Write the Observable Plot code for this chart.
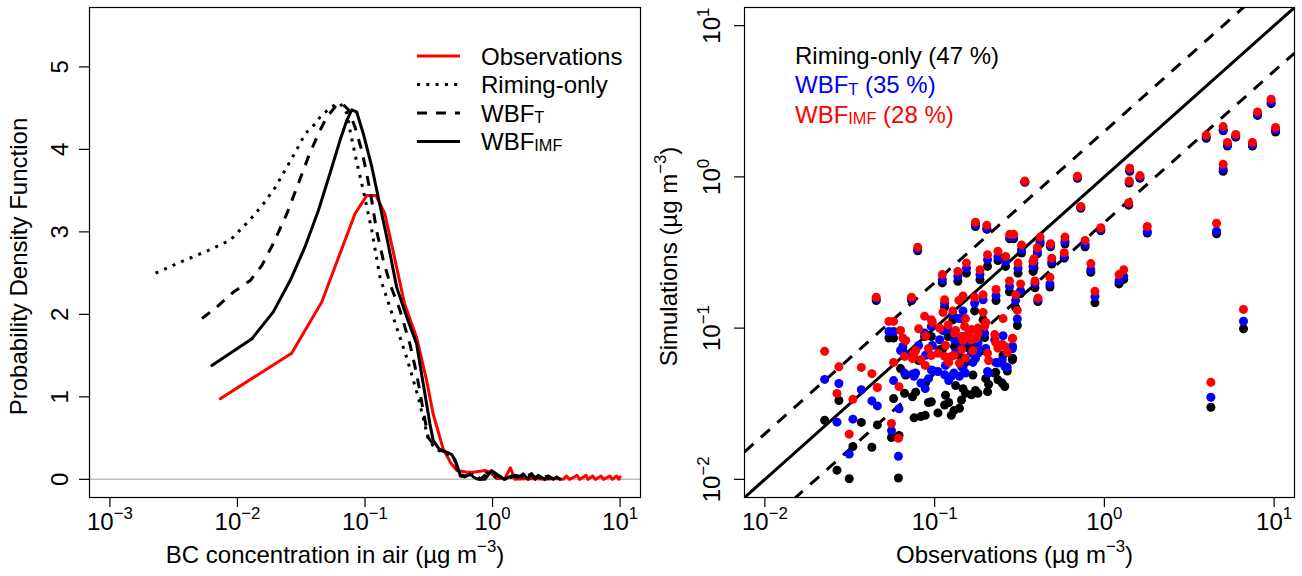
<!DOCTYPE html>
<html><head><meta charset="utf-8">
<script src="https://cdn.jsdelivr.net/npm/d3@7"></script>
<script src="https://cdn.jsdelivr.net/npm/@observablehq/plot@0.6"></script>
<style>
html,body{margin:0;padding:0;background:#fff;}
#wrap{position:relative;width:1302px;height:576px;overflow:hidden;background:#fff;}
#wrap svg{position:absolute;top:0;}
</style></head><body><div id="wrap"></div>
<script>
// ---------- Left panel: PDF curves ----------
const obsX = [0.00734,0.0266,0.0458,0.0835,0.103,0.122,0.143,0.157,0.177,0.204,0.254,0.304,0.342,0.41,0.47,0.525,0.62,0.706,0.87,0.955,1.077,1.25,1.38,1.5,2.0,2.6,3.1,3.6,3.8,4.0,4.4,4.6,4.8,5.2,5.4,5.6,6.1,6.4,7.1,7.4,8.3,8.7,9.4,9.8,10.0];
const obsY = [0.978,1.53,2.15,3.22,3.44,3.44,3.22,2.94,2.57,2.13,1.72,1.2,0.795,0.37,0.2,0.107,0.09,0.086,0.107,0.086,0.01,0.01,0.14,0.0,0.01,0.0,0.01,0.0,0.04,0.0,0.03,0.05,0.0,0.03,0.05,0.0,0.04,0.0,0.04,0.0,0.04,0.0,0.04,0.0,0.03];

const rimX = [0.00228,0.00379,0.00612,0.00879,0.0126,0.016,0.0198,0.0237,0.0283,0.034,0.0406,0.0458,0.0516,0.0582,0.0637,0.072,0.0763,0.086,0.097,0.113,0.131,0.166,0.212,0.261,0.313,0.36,0.43,0.5,0.55,0.62,0.7,0.8,0.9,1.05,1.25,1.5,1.8,2.1,2.5,3.0];
const rimY = [2.5,2.65,2.785,2.9,3.15,3.34,3.54,3.75,3.96,4.19,4.31,4.42,4.48,4.54,4.56,4.44,4.23,3.85,3.5,3.02,2.45,1.97,1.48,1.0,0.49,0.36,0.32,0.25,0.05,0.05,0.06,0.01,0.08,0.03,0.0,0.04,0.02,0.05,0.0,0.03];

const wbftX = [0.00527,0.0069,0.0093,0.0126,0.0155,0.0191,0.0244,0.0301,0.036,0.0431,0.0501,0.0601,0.0658,0.0741,0.0835,0.0942,0.103,0.113,0.123,0.139,0.157,0.188,0.225,0.254,0.286,0.313,0.364,0.43,0.5,0.55,0.62,0.7,0.8,0.95,1.1,1.3,1.5,1.7,2.0,2.3,2.7,3.1];
const wbftY = [1.95,2.09,2.27,2.41,2.59,2.86,3.22,3.59,3.91,4.19,4.39,4.54,4.56,4.48,4.27,3.99,3.71,3.38,3.02,2.66,2.37,2.05,1.64,1.28,0.835,0.51,0.37,0.33,0.27,0.05,0.04,0.07,0.0,0.1,0.04,0.0,0.05,0.03,0.06,0.0,0.04,0.0];

const wbfimfX = [0.0063,0.013,0.0191,0.0259,0.0339,0.0431,0.0532,0.0637,0.0719,0.0787,0.086,0.097,0.113,0.127,0.148,0.177,0.212,0.254,0.286,0.323,0.343,0.38,0.436,0.48,0.52,0.56,0.6,0.665,0.72,0.773,0.87,0.98,1.11,1.24,1.4,1.59,1.74,1.9,2.02,2.15,2.28,2.57,2.73,2.99,3.18,3.38];
const wbfimfY = [1.38,1.705,2.03,2.41,2.82,3.26,3.71,4.11,4.35,4.48,4.455,4.19,3.79,3.42,2.94,2.33,1.97,1.64,1.16,0.67,0.47,0.37,0.33,0.3,0.2,0.04,0.03,0.066,0.02,0.0,0.0,0.107,0.05,0.0,0.04,0.026,0.066,0.0,0.07,0.0,0.05,0.0,0.04,0.0,0.03,0.0];

const leftXTicks = [0.001, 0.01, 0.1, 1, 10];
const leftYTicks = [0, 1, 2, 3, 4, 5];
const legendLabels = ["Observations", "Riming-only", "WBF_{T}", "WBF_{IMF}"];

// ---------- Right panel: scatter ----------
const siteObs = [9.6,10.2,7.98,7.45,5.94,5.01,5.31,3.98,5.01,4.58,6.6,4.24,1.41,1.40,1.62,1.39,1.79,1.22,1.30,0.88,0.953,0.832,0.726,0.694,0.77,0.586,0.58,0.482,0.49,0.478,0.406,0.34,0.174,0.203,0.0795,0.403,
 0.111,0.154,0.137,0.185,0.205,0.236,0.262,0.277,0.292,0.325,0.31,0.38,0.418,0.39,0.276,0.30,0.23,0.193,0.172,0.147,0.128,0.1145,0.0873,0.0956,0.107,0.12,0.15,0.1645,0.18,0.197,0.159,0.144,0.131,0.0665,0.0757,0.083,0.0956,0.1046,0.1145,0.1254,0.14,0.152,0.144,0.205,0.236,0.259,0.288,0.226,0.1645,0.18,
 0.0225,0.0273,0.0266,0.0314,0.033,0.037,0.0427,0.046,0.0453,0.0731,0.0538,0.0573,0.0557,0.0612,0.0617,0.065,
 0.321,0.307,0.287,0.268,0.25,0.385,
 0.0675,0.0773,0.0885,0.097,0.116,0.133,0.152,0.174,0.2,0.229,0.0573,0.074,0.092,0.13,0.147,0.168,0.193,0.253,0.0805,0.112,0.139,0.063,0.121,0.208,0.088];
const simRiming = [3.05,1.98,2.55,1.60,1.83,2.02,1.60,1.80,1.09,0.42,0.099,0.030,1.09,0.91,0.98,0.65,0.425,0.196,0.21,0.147,0.44,0.234,0.62,0.98,0.345,0.36,0.29,0.345,0.265,0.187,0.15,0.92,0.47,0.45,0.325,0.31,
 0.199,0.231,0.204,0.209,0.256,0.28,0.256,0.39,0.39,0.314,0.231,0.237,0.361,0.185,0.174,0.137,0.152,0.1135,0.13,0.115,0.1135,0.138,0.088,0.088,0.0719,0.088,0.079,0.0756,0.0683,0.0865,0.0737,0.0633,0.0756,0.0371,0.0255,0.026,0.0326,0.0275,0.031,0.0265,0.0295,0.0371,0.0335,0.038,0.0455,0.0411,0.0633,0.0504,0.0362,0.0371,
 0.0246,0.0332,0.0115,0.0101,0.0165,0.0238,0.0163,0.0229,0.152,0.152,0.086,0.086,0.0189,0.0102,0.0195,0.070,
 0.169,0.104,0.0616,0.052,0.0433,0.25,
 0.049,0.0377,0.0437,0.0525,0.036,0.0417,0.0593,0.0387,0.0463,0.051,0.0342,0.0352,0.0322,0.0285,0.0398,0.049,0.0711,0.0662,0.0611,0.0733,0.0828,0.054,0.0322,0.0425,0.0265];
const simWBFT = [3.13,2.05,2.60,1.64,1.87,2.06,1.63,1.84,1.13,0.437,0.111,0.0349,1.11,0.93,1.0,0.665,0.435,0.206,0.22,0.162,0.45,0.243,0.63,0.995,0.357,0.375,0.298,0.352,0.275,0.196,0.154,0.93,0.484,0.458,0.333,0.32,
 0.209,0.249,0.22,0.226,0.283,0.296,0.277,0.40,0.40,0.33,0.249,0.256,0.376,0.197,0.189,0.152,0.164,0.154,0.146,0.13,0.123,0.146,0.093,0.1026,0.0837,0.098,0.088,0.0837,0.0796,0.0927,0.0817,0.0756,0.0837,0.0504,0.048,0.0433,0.0529,0.0517,0.0492,0.048,0.048,0.0504,0.0557,0.0517,0.0587,0.0557,0.0756,0.0837,0.0683,0.07,
 0.0458,0.043,0.0239,0.0147,0.025,0.0391,0.033,0.0306,0.156,0.156,0.095,0.095,0.021,0.0142,0.0293,0.0757,
 0.177,0.115,0.073,0.055,0.0617,0.267,
 0.0662,0.0505,0.0662,0.0767,0.0567,0.069,0.0828,0.063,0.0733,0.0593,0.045,0.0496,0.0463,0.0505,0.0545,0.0593,0.0964,0.089,0.0767,0.0964,0.1156,0.0711,0.045,0.0505,0.0398];
const simWBFIMF = [3.26,2.12,2.69,1.69,1.91,2.15,1.69,1.89,1.21,0.494,0.133,0.0438,1.14,0.94,1.02,0.675,0.47,0.226,0.243,0.175,0.461,0.267,0.638,1.01,0.38,0.40,0.315,0.361,0.29,0.217,0.158,0.938,0.502,0.478,0.343,0.34,
 0.226,0.269,0.237,0.243,0.306,0.322,0.298,0.417,0.417,0.355,0.269,0.277,0.40,0.205,0.205,0.166,0.18,0.166,0.16,0.163,0.13,0.154,0.12,0.1135,0.10,0.105,0.1026,0.098,0.10,0.1026,0.0927,0.088,0.0927,0.065,0.0683,0.0617,0.0658,0.0683,0.065,0.065,0.0587,0.0633,0.0719,0.0683,0.0737,0.0756,0.0856,0.0906,0.0837,0.0927,
 0.0702,0.0555,0.037,0.0199,0.0338,0.055,0.05,0.0405,0.16,0.16,0.1107,0.1107,0.0234,0.0187,0.041,0.086,
 0.196,0.131,0.085,0.0693,0.078,0.288,
 0.0828,0.0711,0.089,0.109,0.0767,0.0964,0.1156,0.0853,0.109,0.0803,0.0593,0.063,0.0733,0.066,0.0828,0.0711,0.127,0.1156,0.099,0.127,0.1525,0.0964,0.0593,0.0611,0.0567];
const rightTicks = [0.01, 0.1, 1, 10];
const ratioLines = [0.5, 1, 2];
const scatterLabels = ["Riming-only (47 %)", "WBF_{T} (35 %)", "WBF_{IMF} (28 %)"];

// ---------- build ----------
const FONT = '"Liberation Sans", Arial, Helvetica, sans-serif';
const FS = 24;
const wrap = document.getElementById("wrap");

function fmtExp(d) {
  const e = Math.round(Math.log10(d));
  return "10^{" + (e < 0 ? "\u2212" + (-e) : String(e)) + "}";
}
const toRows = (xs, ys) => xs.map((x, i) => ({x, y: ys[i]}));
const xTitle = "BC concentration in air (\u00b5g m^{\u22123})";

const left = Plot.plot({
  width: 650, height: 576,
  marginLeft: 89, marginRight: 10, marginTop: 7, marginBottom: 79,
  style: {fontFamily: FONT, fontSize: FS + "px", background: "transparent"},
  x: {type: "log", domain: [Math.pow(10, -3.16), Math.pow(10, 1.16)]},
  y: {domain: [-0.22, 5.72]},
  marks: [
    Plot.ruleY([0], {stroke: "#bebebe", strokeWidth: 1.5}),
    Plot.line(toRows(obsX, obsY), {x: "x", y: "y", stroke: "red", strokeWidth: 3}),
    Plot.line(toRows(rimX, rimY), {x: "x", y: "y", stroke: "black", strokeWidth: 3, strokeDasharray: "3,6.3", strokeLinecap: "butt"}),
    Plot.line(toRows(wbftX, wbftY), {x: "x", y: "y", stroke: "black", strokeWidth: 3, strokeDasharray: "10,9", strokeLinecap: "butt"}),
    Plot.line(toRows(wbfimfX, wbfimfY), {x: "x", y: "y", stroke: "black", strokeWidth: 3}),
    Plot.axisX({ticks: leftXTicks, tickSize: 10, tickFormat: () => "", label: null, strokeWidth: 1.2}),
    Plot.axisY({ticks: leftYTicks, tickSize: 10, tickFormat: () => "", label: null, strokeWidth: 1.2}),
    Plot.text(leftXTicks, {x: d => d, text: fmtExp, frameAnchor: "bottom", dy: 32, lineAnchor: "bottom", textAnchor: "middle", fontSize: FS}),
    Plot.text(leftYTicks, {y: d => d, text: d => String(d), frameAnchor: "left", dx: -22, rotate: -90, lineAnchor: "bottom", textAnchor: "middle", fontSize: FS}),
    Plot.text([xTitle], {text: d => d, frameAnchor: "bottom", dx: -30, dy: 65, lineAnchor: "bottom", textAnchor: "middle", fontSize: FS}),
    Plot.text(["Probability Density Function"], {text: d => d, frameAnchor: "left", dx: -63, dy: 14, rotate: -90, lineAnchor: "bottom", textAnchor: "middle", fontSize: FS}),
    Plot.frame({stroke: "black", strokeWidth: 1.2})
  ]
});
left.style.left = "0px";
wrap.appendChild(left);

const pts = siteObs.map((o, i) => ({obs: o, rim: simRiming[i], t: simWBFT[i], imf: simWBFIMF[i]}));
const rDom = [Math.pow(10, -2.12), Math.pow(10, 1.12)];
const refRows = ratioLines.flatMap(k => rDom.map(x => ({k, x, y: k * x})));

const right = Plot.plot({
  width: 652, height: 576,
  marginLeft: 94, marginRight: 8, marginTop: 7, marginBottom: 79,
  style: {fontFamily: FONT, fontSize: FS + "px", background: "transparent"},
  x: {type: "log", domain: rDom},
  y: {type: "log", domain: rDom},
  marks: [
    Plot.line(refRows.filter(d => d.k === 1), {x: "x", y: "y", stroke: "black", strokeWidth: 3, clip: true}),
    Plot.line(refRows.filter(d => d.k !== 1), {x: "x", y: "y", z: "k", stroke: "black", strokeWidth: 3, strokeDasharray: "12,10", strokeLinecap: "butt", clip: true}),
    Plot.dot(pts, {x: "obs", y: "rim", r: 4.5, fill: "black"}),
    Plot.dot(pts, {x: "obs", y: "t", r: 4.5, fill: "blue"}),
    Plot.dot(pts, {x: "obs", y: "imf", r: 4.5, fill: "red"}),
    Plot.axisX({ticks: rightTicks, tickSize: 10, tickFormat: () => "", label: null, strokeWidth: 1.2}),
    Plot.axisY({ticks: rightTicks, tickSize: 10, tickFormat: () => "", label: null, strokeWidth: 1.2}),
    Plot.text(rightTicks, {x: d => d, text: fmtExp, frameAnchor: "bottom", dy: 32, lineAnchor: "bottom", textAnchor: "middle", fontSize: FS}),
    Plot.text(rightTicks, {y: d => d, text: fmtExp, frameAnchor: "left", dx: -25, rotate: -90, lineAnchor: "bottom", textAnchor: "middle", fontSize: FS}),
    Plot.text(["Observations (\u00b5g m^{\u22123})"], {text: d => d, frameAnchor: "bottom", dx: -5, dy: 65, lineAnchor: "bottom", textAnchor: "middle", fontSize: FS}),
    Plot.text(["Simulations (\u00b5g m^{\u22123})"], {text: d => d, frameAnchor: "left", dx: -68, dy: 4, rotate: -90, lineAnchor: "bottom", textAnchor: "middle", fontSize: FS}),
    Plot.frame({stroke: "black", strokeWidth: 1.2})
  ]
});
right.style.left = "650px";
wrap.appendChild(right);

// ---------- overlay: legend and annotations ----------
const ov = d3.create("svg").attr("width", 1302).attr("height", 576)
  .style("left", "0px").style("pointer-events", "none")
  .attr("font-family", FONT).attr("font-size", FS);
const legStyles = [
  {stroke: "red", dash: null},
  {stroke: "black", dash: "3,6.3"},
  {stroke: "black", dash: "10,9"},
  {stroke: "black", dash: null}
];
legendLabels.forEach((lab, i) => {
  const y = 56 + i * 28.5;
  ov.append("line").attr("x1", 417).attr("x2", 460).attr("y1", y).attr("y2", y)
    .attr("stroke", legStyles[i].stroke).attr("stroke-width", 3)
    .attr("stroke-dasharray", legStyles[i].dash).attr("stroke-linecap", "butt");
  ov.append("text").attr("x", 481).attr("y", y + 8.5).attr("fill", "black").text(lab);
});
const scatterColors = ["black", "blue", "red"];
scatterLabels.forEach((lab, i) => {
  ov.append("text").attr("x", 795).attr("y", 64 + i * 29.3).attr("fill", scatterColors[i]).text(lab);
});
wrap.appendChild(ov.node());

// ---------- rich text (superscripts / small subscripts) ----------
function rich(root) {
  root.querySelectorAll("text").forEach(t => {
    const s = t.textContent;
    if (!/[\^_]\{/.test(s)) return;
    const base = parseFloat(t.getAttribute("font-size")) || FS;
    t.textContent = "";
    const re = /([\^_])\{([^}]*)\}/g;
    let last = 0, m, cur = 0;
    const add = (txt, size, target) => {
      if (!txt) return;
      const ts = document.createElementNS("http://www.w3.org/2000/svg", "tspan");
      ts.textContent = txt;
      ts.setAttribute("font-size", size);
      const dy = target - cur;
      if (dy) ts.setAttribute("dy", dy);
      cur = target;
      t.appendChild(ts);
    };
    while ((m = re.exec(s))) {
      add(s.slice(last, m.index), base, 0);
      if (m[1] === "^") add(m[2], 0.7 * base, -0.44 * base);
      else add(m[2], 0.68 * base, 0.05 * base);
      last = re.lastIndex;
    }
    add(s.slice(last), base, 0);
  });
}
rich(wrap);
</script>
</body></html>
